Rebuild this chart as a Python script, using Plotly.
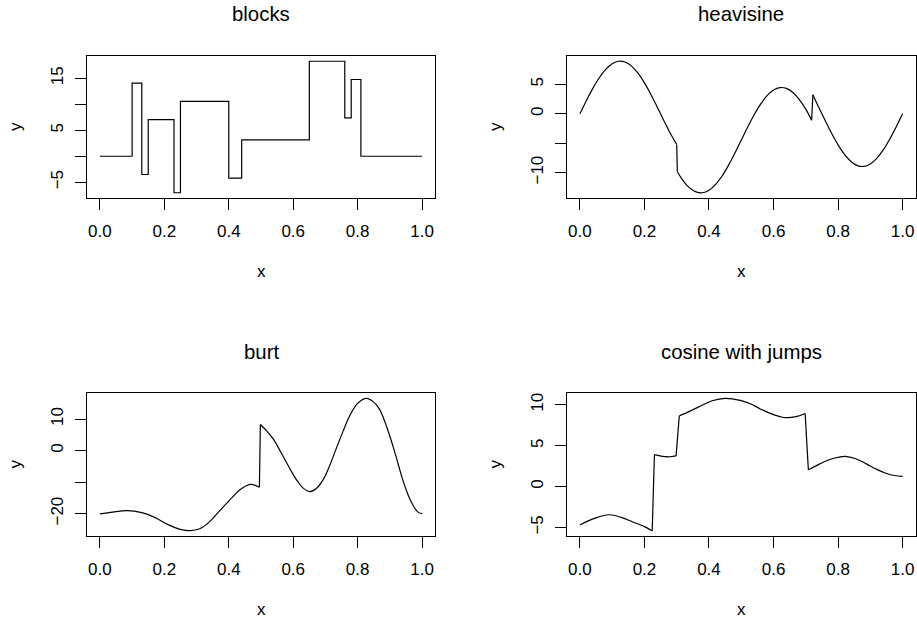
import plotly.graph_objects as go

# ---------------- data ----------------
blocks_x = [0.0, 0.10, 0.13, 0.15, 0.23, 0.25, 0.40, 0.44, 0.65, 0.76, 0.78, 0.81, 1.0]
blocks_y = [0.0, 14.07, -3.52, 7.03, -7.03, 10.55, -4.22, 3.16, 18.28, 7.38, 14.77, 0.0, 0.0]

heavi_x = [0.00, 0.02, 0.04, 0.06, 0.08, 0.10, 0.12, 0.14, 0.16, 0.18, 0.20, 0.22, 0.24,
           0.26, 0.28, 0.30, 0.302, 0.32, 0.34, 0.36, 0.38, 0.40, 0.42, 0.44, 0.46, 0.48,
           0.50, 0.52, 0.54, 0.56, 0.58, 0.60, 0.62, 0.64, 0.66, 0.68, 0.70, 0.718, 0.722,
           0.74, 0.76, 0.78, 0.80, 0.82, 0.84, 0.86, 0.88, 0.90, 0.92, 0.94, 0.96, 0.98, 1.00]
heavi_y = [0.00, 2.23, 4.32, 6.13, 7.56, 8.52, 8.94, 8.80, 8.11, 6.90, 5.27, 3.30, 1.12,
           -1.12, -3.30, -5.20, -9.85, -11.38, -12.59, -13.28, -13.42, -13.00, -12.04, -10.61, -8.80, -6.71,
           -4.48, -2.25, -0.16, 1.65, 3.08, 4.04, 4.46, 4.32, 3.63, 2.42, 0.79, -1.10, 3.25,
           1.12, -1.12, -3.30, -5.27, -6.90, -8.11, -8.80, -8.94, -8.52, -7.56, -6.13, -4.32, -2.23, 0.00]

burt_x = [0.000, 0.040, 0.085, 0.130, 0.170, 0.210, 0.250, 0.280, 0.310, 0.340, 0.370, 0.410,
          0.440, 0.468, 0.495, 0.498, 0.518, 0.540, 0.560, 0.580, 0.600, 0.616, 0.631, 0.652,
          0.672, 0.693, 0.713, 0.734, 0.755, 0.775, 0.800, 0.827, 0.850, 0.868, 0.890, 0.909,
          0.925, 0.940, 0.956, 0.971, 0.988, 1.000]
burt_y = [-20.1, -19.5, -19.05, -19.7, -21.2, -23.4, -25.0, -25.4, -24.8, -22.6, -19.3, -14.9,
          -12.0, -10.7, -11.6, 8.3, 6.2, 3.4, -0.2, -3.9, -7.6, -10.1, -11.9, -13.0,
          -12.0, -9.2, -4.8, 0.8, 6.2, 11.0, 15.0, 16.6, 15.4, 13.1, 7.6, 1.6,
          -4.0, -9.3, -13.9, -17.2, -19.6, -20.0]

cos_x = [0.000, 0.045, 0.090, 0.130, 0.162, 0.200, 0.224, 0.231, 0.255, 0.280, 0.298, 0.308,
         0.340, 0.368, 0.410, 0.450, 0.497, 0.530, 0.559, 0.600, 0.631, 0.670, 0.698, 0.708,
         0.730, 0.755, 0.790, 0.822, 0.855, 0.889, 0.920, 0.950, 0.975, 1.000]
cos_y = [-4.7, -3.9, -3.45, -3.8, -4.3, -4.9, -5.4, 3.9, 3.7, 3.65, 3.75, 8.65,
         9.2, 9.75, 10.5, 10.8, 10.55, 10.1, 9.5, 8.8, 8.45, 8.55, 8.95, 2.05,
         2.5, 3.0, 3.5, 3.7, 3.4, 2.75, 2.1, 1.6, 1.35, 1.25]

titles = ["blocks", "heavisine", "burt", "cosine with jumps"]
x_ticks = [0.0, 0.2, 0.4, 0.6, 0.8, 1.0]
x_ticktext = ["0.0", "0.2", "0.4", "0.6", "0.8", "1.0"]
y_ticks = [[-5, 0, 5, 10, 15], [-10, -5, 0, 5], [-20, -10, 0, 10], [-5, 0, 5, 10]]
y_ticktext = [["\u22125", "", "5", "", "15"], ["\u221210", "", "0", "5"],
              ["\u221220", "", "0", "10"], ["\u22125", "0", "5", "10"]]
y_ranges = [[-8.04, 19.29], [-14.31, 9.83], [-27.1, 18.3], [-6.05, 11.45]]

# ---------------- figure ----------------
W, H = 917, 623
FONT = "Helvetica, Arial, Liberation Sans, sans-serif"

# plot boxes in pixels: (left, right, top, bottom)
boxes = [(87, 435, 56, 198), (567, 915.5, 56, 198), (87, 435, 393, 536), (567, 915.5, 393, 536)]

fig = go.Figure()


def add_line(xs, ys, sfx, shape):
    line = dict(color="black", width=1.2, shape=shape)
    if shape == "spline":
        line["smoothing"] = 1.0
    fig.add_trace(go.Scatter(x=xs, y=ys, mode="lines", line=line,
                             xaxis="x" + sfx, yaxis="y" + sfx, showlegend=False,
                             hoverinfo="skip"))


series = [(blocks_x, blocks_y, "hv"), (heavi_x, heavi_y, "spline"),
          (burt_x, burt_y, "spline"), (cos_x, cos_y, "spline")]
for i, (xs, ys, shape) in enumerate(series):
    sfx = "" if i == 0 else str(i + 1)
    if shape != "spline":
        add_line(xs, ys, sfx, shape)
        continue
    # smooth pieces drawn as splines, jumps (very close x) drawn as straight segments
    start = 0
    for k in range(len(xs) - 1):
        if xs[k + 1] - xs[k] < 0.0105:
            add_line(xs[start:k + 1], ys[start:k + 1], sfx, "spline")
            add_line(xs[k:k + 2], ys[k:k + 2], sfx, "linear")
            start = k + 1
    add_line(xs[start:], ys[start:], sfx, "spline")

layout = dict(width=W, height=H, margin=dict(l=0, r=0, t=0, b=0),
              paper_bgcolor="white", plot_bgcolor="white", showlegend=False,
              font=dict(family=FONT, size=17, color="black"))

annotations = []
for i, (l, r, t, b) in enumerate(boxes):
    sfx = "" if i == 0 else str(i + 1)
    xd = [l / W, r / W]
    yd = [1 - b / H, 1 - t / H]
    axcommon = dict(showgrid=False, zeroline=False, showline=True, mirror=True,
                    linecolor="black", linewidth=1, ticks="outside", ticklen=11,
                    tickwidth=1, tickcolor="black",
                    tickfont=dict(family=FONT, size=17, color="black"))
    layout["xaxis" + sfx] = dict(domain=xd, range=[-0.04, 1.04], tickvals=x_ticks,
                                 ticktext=x_ticktext, anchor="y" + sfx,
                                 ticklabelstandoff=7, **axcommon)
    layout["yaxis" + sfx] = dict(domain=yd, range=y_ranges[i], tickvals=y_ticks[i],
                                 ticktext=y_ticktext[i], anchor="x" + sfx,
                                 tickangle=-90, ticklabelstandoff=5, **axcommon)
    cx = (l + r) / 2
    cy = (t + b) / 2
    annotations.append(dict(text=titles[i], x=cx / W, y=1 - (t - 41.5) / H,
                            xref="paper", yref="paper", showarrow=False,
                            xanchor="center", yanchor="middle",
                            font=dict(family=FONT, size=20.4, color="black")))
    annotations.append(dict(text="x", x=cx / W, y=1 - (b + 73.5) / H,
                            xref="paper", yref="paper", showarrow=False,
                            xanchor="center", yanchor="middle",
                            font=dict(family=FONT, size=17, color="black")))
    annotations.append(dict(text="y", x=(l - 72) / W, y=1 - cy / H,
                            xref="paper", yref="paper", showarrow=False,
                            xanchor="center", yanchor="middle", textangle=-90,
                            font=dict(family=FONT, size=17, color="black")))
layout["annotations"] = annotations
fig.update_layout(**layout)

fig.write_html("out.html", config={"displayModeBar": False},
               post_script="document.body.style.margin='0px';document.body.style.overflow='hidden';")
